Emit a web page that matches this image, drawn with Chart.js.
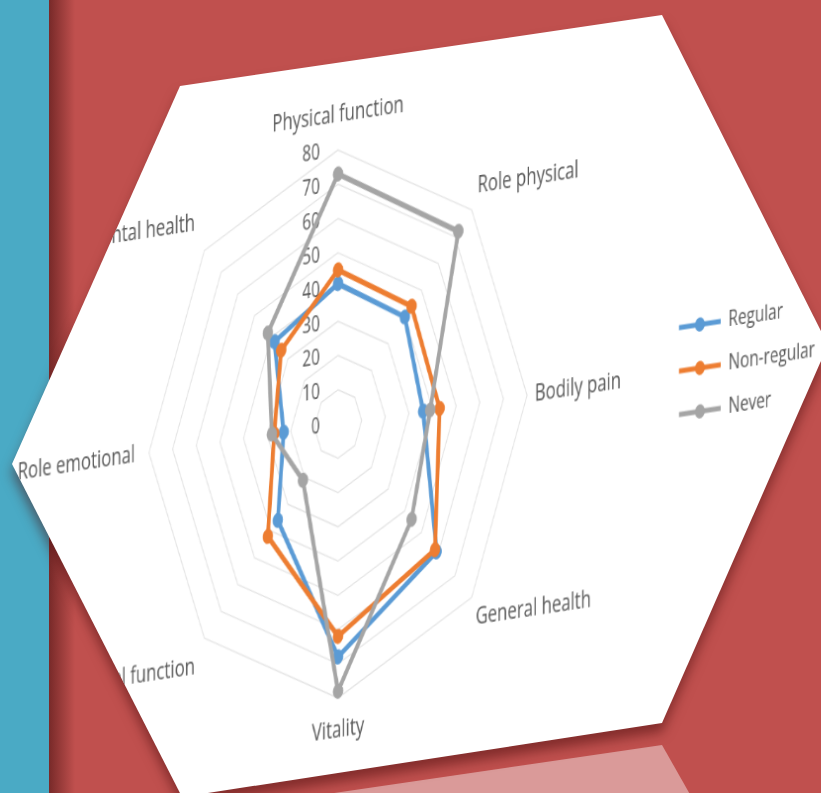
<!DOCTYPE html>
<html>
<head>
<meta charset="utf-8">
<script src="https://cdn.jsdelivr.net/npm/chart.js@4.4.1/dist/chart.umd.min.js"></script>
<style>
  html, body { margin: 0; padding: 0; }
  body { width: 821px; height: 793px; overflow: hidden; position: relative; background: #c0504e; }
  .layer { position: absolute; left: 0; top: 0; width: 821px; height: 793px; }
  #teal { position: absolute; left: 0; top: 0; width: 49px; height: 793px; background: #4aaac5; }
  #fold { position: absolute; left: 49px; top: 0; width: 26px; height: 793px;
          background: linear-gradient(to right, rgba(60, 10, 10, 0.55), rgba(60, 10, 10, 0)); }
  #reflex { background: #da9a99; clip-path: polygon(662px 745px, 700px 812px, 300px 812px, 300px 798px); }
  #shade { filter: drop-shadow(0 9px 6px rgba(70, 10, 10, 0.5)); }
  #sheet { background: #fff; overflow: hidden;
           clip-path: polygon(180px 86px, 662px 15px, 828px 345px, 662px 723px, 182px 797px, 12px 464px); }
  #sheet canvas { position: absolute; left: 0; top: 0; transform-origin: 0 0; filter: blur(0.5px); }
</style>
</head>
<body>
<div id="teal"></div>
<div id="fold"></div>
<div id="reflex" class="layer"></div>
<div id="shade" class="layer">
  <div id="sheet" class="layer">
    <canvas id="radar" width="1400" height="640" style="width:1400px;height:640px"></canvas>
  </div>
</div>
<script>
const labels = ["Physical function", "Role physical", "Bodily pain", "General health",
  "Vitality", "Social function", "Role emotional", "Mental health"];
const regular = [41, 40, 36, 59, 68, 36, 23, 38];
const nonRegular = [45, 44, 43, 58, 62, 42, 27, 34];
const never = [73, 72, 39, 44, 78, 21, 28, 42];
const seriesNames = ["Regular", "Non-regular", "Never"];
const tickValues = [0, 10, 20, 30, 40, 50, 60, 70, 80];

const colors = ["#5b9bd5", "#ed7d31", "#a5a5a5"];
const textColor = "#595959";
const font = "'Open Sans'";
// page geometry of the skewed sheet: centre, radius of the 80 ring, squeeze and shear
const centerX = 338;
const centerY = 424;
const ringRadius = 274;
const squeeze = 0.69;
const shear = -0.105;
const legendOffset = 502;

const canvas = document.getElementById("radar");

function legendIcon(color) {
  const icon = document.createElement("canvas");
  icon.width = 60;
  icon.height = 16;
  const g = icon.getContext("2d");
  g.strokeStyle = color;
  g.lineWidth = 5;
  g.beginPath();
  g.moveTo(0, 8);
  g.lineTo(60, 8);
  g.stroke();
  g.fillStyle = color;
  g.beginPath();
  g.arc(30, 8, 7, 0, Math.PI * 2);
  g.fill();
  return icon;
}

// Excel puts the value labels left of the top spoke, under the lines
const tickLabels = {
  id: "tickLabels",
  beforeDatasetsDraw(chart) {
    const r = chart.scales.r;
    const g = chart.ctx;
    g.save();
    g.font = "22px " + font;
    g.fillStyle = textColor;
    g.textAlign = "right";
    g.textBaseline = "middle";
    tickValues.forEach(v => {
      g.fillText(String(v), r.xCenter - 26, r.yCenter - r.getDistanceFromCenterForValue(v));
    });
    g.restore();
  }
};

const labelPadding = [20, 12, 11, 8, 18, 19, 20, 19];

const chart = new Chart(canvas, {
  type: "radar",
  data: {
    labels: labels,
    datasets: [regular, nonRegular, never].map((values, i) => ({
      label: seriesNames[i],
      data: values,
      borderColor: colors[i],
      backgroundColor: colors[i],
      pointBackgroundColor: colors[i],
      pointBorderColor: colors[i],
      borderWidth: 5.5,
      pointRadius: 7,
      pointBorderWidth: 1,
      fill: false,
      order: 3 - i
    }))
  },
  options: {
    responsive: false,
    maintainAspectRatio: false,
    animation: false,
    layout: { padding: { left: 0, right: 0, top: 0, bottom: 0 } },
    scales: {
      r: {
        min: 0,
        max: 80,
        ticks: { stepSize: 10, display: false },
        grid: { color: "#e2e2e2", lineWidth: 1.3 },
        angleLines: { display: false },
        pointLabels: {
          font: { family: font, size: 24 },
          color: textColor,
          padding: ctx => labelPadding[ctx.index]
        }
      }
    },
    plugins: {
      legend: {
        position: "right",
        labels: {
          usePointStyle: true,
          pointStyleWidth: 60,
          padding: 21,
          color: textColor,
          font: { family: font, size: 22 },
          generateLabels: c => c.data.datasets.map((ds, i) => ({
            text: ds.label,
            pointStyle: legendIcon(colors[i]),
            fillStyle: colors[i],
            strokeStyle: colors[i],
            lineWidth: 0,
            fontColor: textColor,
            hidden: false,
            datasetIndex: i
          }))
        }
      },
      tooltip: { enabled: false }
    }
  },
  plugins: [tickLabels]
});

// move the radar so the legend sits where it does in the picture
const boxes = chart.legend.legendHitBoxes || [];
const legendStart = boxes.length ? boxes[0].left : chart.legend.left + 21;
const gap = legendStart - chart.scales.r.xCenter;
if (gap > legendOffset) {
  chart.options.layout.padding.left = 2 * (gap - legendOffset);
  chart.update();
}

const r = chart.scales.r;
const s = ringRadius / r.drawingArea;
const a = squeeze * s;
const b = shear * s;
const d = s;
const e = centerX - a * r.xCenter;
const f = centerY - b * r.xCenter - d * r.yCenter;
canvas.style.transform = `matrix(${a}, ${b}, 0, ${d}, ${e}, ${f})`;
</script>
</body>
</html>
